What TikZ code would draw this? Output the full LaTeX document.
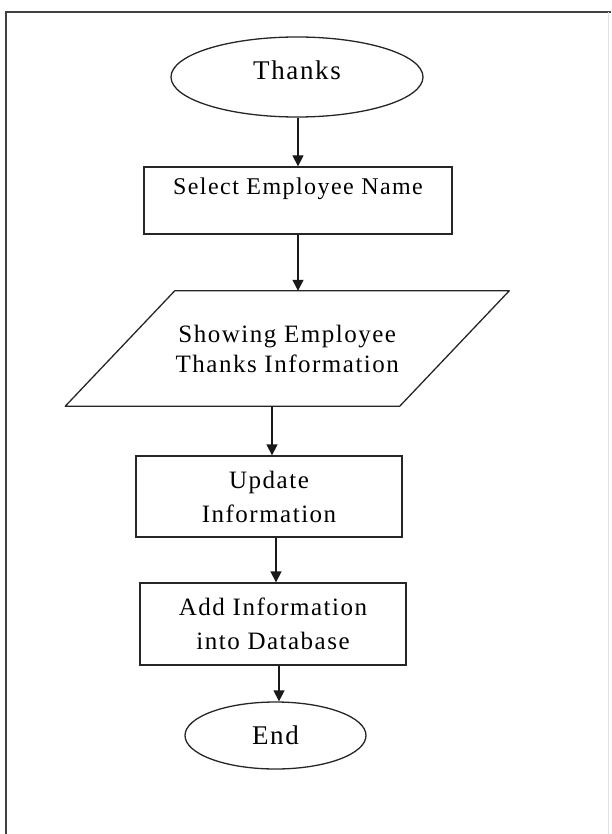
\documentclass[tikz,border=0pt]{standalone}
\usepackage{fontspec}
\newfontfamily\flowfont[LetterSpace=6]{Liberation Serif}
\usetikzlibrary{shapes.geometric,arrows.meta,calc}

\tikzset{
  outline/.style={draw=black!85, line width=1.3pt},
  txt/.style={font=\flowfont\fontsize{25}{34}\selectfont, align=center, inner sep=0pt},
  terminal/.style={ellipse, outline, txt, font=\flowfont\fontsize{27}{32}\selectfont},
  procbox/.style={rectangle, outline, txt},
  arr/.style={draw=black!90, line width=1.3pt, -{Triangle[length=11pt,width=11pt]}},
  frame/.style={draw=black!75, line width=2.2pt}
}

\begin{document}
\begin{tikzpicture}[x=1pt, y=-1pt]
  \useasboundingbox (0,0) rectangle (611,834);

  % page frame (left and top edges, faint right edge)
  \draw[frame] (6,834) -- (6,12) -- (611,12);
  \draw[draw=black!12, line width=1pt] (608,12) -- (608,834);

  % start, label set slightly above the centre
  \node[terminal, minimum width=252pt, minimum height=80pt,
        text height=18pt, text depth=12pt] (thanks) at (297,77) {Thanks};

  % select step, text sits in the upper part of the box
  \node[procbox, minimum width=308pt, font=\flowfont\fontsize{24}{30}\selectfont,
        text height=28pt, text depth=39pt] (select) at (298,200.5) {Select Employee Name};

  % data step (parallelogram drawn around a text node)
  \node[txt, minimum width=225pt, minimum height=115pt, font=\flowfont\fontsize{25}{30}\selectfont]
    (showing) at (287.25,348.5) {Showing Employee\\Thanks Information};
  \draw[outline, line join=round]
    ($(showing.north)+(-112.5,0)$) -- ($(showing.north)+(222,0)$) --
    ($(showing.south)+(112.5,0)$) -- ($(showing.south)+(-222,0)$) -- cycle;

  % processing steps
  \node[procbox, minimum width=266pt, minimum height=81pt] (update) at (269,496.5) {Update\\Information};
  \node[procbox, minimum width=266pt, minimum height=82pt] (add) at (273,624) {Add Information\\into Database};

  % end
  \node[terminal, minimum width=181pt, minimum height=67pt] (end) at (275.5,735.5) {End};

  % connectors
  \draw[arr] (select.north |- thanks.south) -- (select.north);
  \draw[arr] (select.south) -- (select.south |- showing.north);
  \draw[arr] ([xshift=3pt]update.north |- showing.south) -- ([xshift=3pt]update.north);
  \draw[arr] ([xshift=3pt]add.north |- update.south) -- ([xshift=3pt]add.north);
  \draw[arr] ([xshift=3.5pt]end.north |- add.south) -- ([xshift=3.5pt]end.north);
\end{tikzpicture}
\end{document}
